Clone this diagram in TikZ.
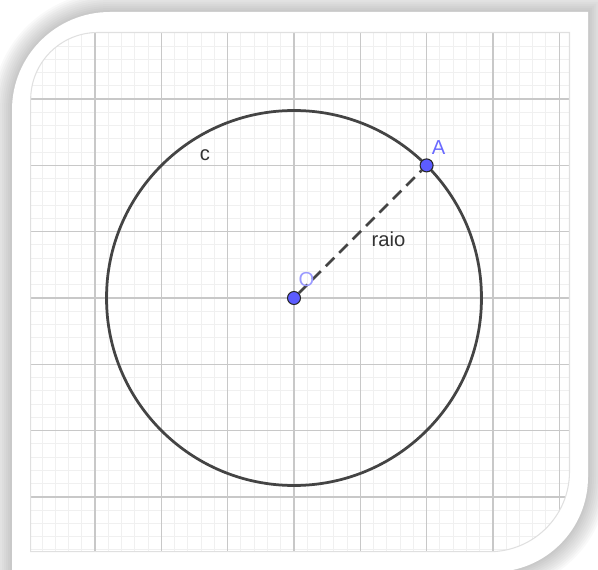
\documentclass[tikz,border=0pt]{standalone}
\usepackage{fontspec}
\setmainfont{Liberation Sans}
\usetikzlibrary{calc}
\definecolor{PointBlue}{HTML}{5C5CFF}
\definecolor{LabelBlue}{HTML}{6B6BFF}
\definecolor{PaleBlue}{HTML}{9A9AFF}
\definecolor{CurveGray}{HTML}{444444}
\definecolor{MajorGrid}{HTML}{C8C8C8}
\definecolor{MinorGrid}{HTML}{F0F0F0}
\tikzset{
  framepath/.style={insert path={(12,110) arc[start angle=180,end angle=270,radius=98]
    -- (588,12) -- (588,477) arc[start angle=0,end angle=90,radius=95] -- (12,572) -- cycle}},
  gridarea/.style={insert path={(30.7,99.5) arc[start angle=180,end angle=270,radius=67]
    -- (569.5,32.5) -- (569.5,471.7) arc[start angle=0,end angle=90,radius=80] -- (30.7,551.7) -- cycle}},
  minorline/.style={MinorGrid,line width=0.55pt},
  majorline/.style={MajorGrid,line width=0.7pt},
  curve/.style={CurveGray,line width=0.055cm},
  pointdot/.style={circle,fill=PointBlue,draw=black!85,line width=0.6pt,inner sep=0pt,minimum size=0.26cm}
}

\begin{document}
\begin{tikzpicture}[x=0.02cm,y=-0.02cm,font=\fontsize{11.5}{13}\selectfont]
  \useasboundingbox (0,0) rectangle (598,570);
  \clip (0,0) rectangle (598,570);
  % soft shadow round the card
  \foreach \h [evaluate=\h as \lw using \h*0.04] in {2,4,...,20}
    \draw[black,opacity=0.025,line width=\lw cm,framepath];
  \fill[white,framepath];
  % grid
  \begin{scope}
    \clip[gridarea];
    \foreach \i in {-21,...,21} {
      \draw[minorline] ({294+\i*13.26},20) -- ++(0,560);
      \draw[minorline] (20,{298+\i*13.26}) -- ++(570,0);
    }
    \foreach \i in {-4,...,4} {
      \draw[majorline] ({294+\i*66.3},20) -- ++(0,560);
      \draw[majorline] (20,{298+\i*66.3}) -- ++(570,0);
    }
  \end{scope}
  \draw[black!12,line width=0.6pt,gridarea];
  % construction
  \coordinate (centre) at (294,298);
  \coordinate (ptA) at (426.6,165.4);
  \draw[curve] (centre) circle[radius=187.5];
  \node[pointdot] (O) at (centre) {};
  \node[pointdot] (A) at (ptA) {};
  \draw[curve,dash pattern=on 6.8pt off 4pt] (O) -- (A);
  \node[text=LabelBlue] (labA) at (438.5,147.5) {A};
  \node[text=PaleBlue] (labO) at (306.5,280) {O};
  \node[text=black!80] (raio) at (388.5,239) {raio};
  \node[text=black!80] (labc) at (205,155) {c};
\end{tikzpicture}
\end{document}
